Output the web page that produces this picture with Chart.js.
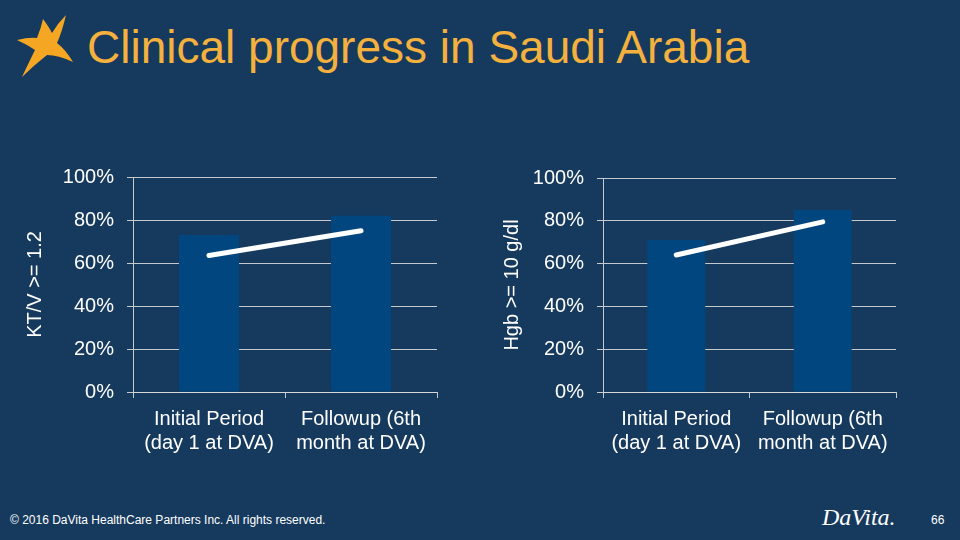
<!DOCTYPE html>
<html>
<head>
<meta charset="utf-8">
<script src="https://cdn.jsdelivr.net/npm/chart.js@4/dist/chart.umd.min.js"></script>
<style>
    body { margin: 0; width: 960px; height: 540px; background: #163a5e; overflow: hidden; position: relative; font-family: Arial, 'Liberation Sans', sans-serif; }
    .title { position: absolute; left: 87px; top: 24px; font-size: 46px; line-height: 46px; color: #f4b13d; white-space: nowrap; }
    .star { position: absolute; left: 0; top: 0; }
    .footer { position: absolute; left: 10px; top: 514px; font-size: 12px; line-height: 12px; color: #fff; white-space: nowrap; }
    .logo { position: absolute; left: 822px; top: 505px; font-family: 'Liberation Serif', 'DejaVu Serif', serif; font-style: italic; font-size: 24px; line-height: 24px; color: #fff; }
    .page { position: absolute; left: 931px; top: 514px; font-size: 12px; line-height: 12px; color: #fff; }
    canvas { position: absolute; }
    #ktv { left: 0; top: 152px; }
    #hgb { left: 480px; top: 153px; }
</style>
</head>
<body>
<svg class="star" width="90" height="90">
    <path d="M43,19 Q49,27 52,33 Q58,23 66,15 Q62,32 57,43 Q66,50 73,62 Q58,55 47,55 Q33,66 22,77 Q30,60 35,50 Q26,44 17,40 Q29,37 37,38 Q41,28 43,19 Z" fill="#f5a623"/>
</svg>
<div class="title">Clinical progress in Saudi Arabia</div>
<canvas id="ktv" width="460" height="308"></canvas>
<canvas id="hgb" width="440" height="307"></canvas>
<div class="footer">© 2016 DaVita HealthCare Partners Inc. All rights reserved.</div>
<div class="logo">DaVita.</div>
<div class="page">66</div>
<script>
const categories = [['Initial Period', '(day 1 at DVA)'], ['Followup (6th', 'month at DVA)']];

const ktvBars = [73, 82];
const ktvLine = [63.5, 75];

const hgbBars = [71, 85];
const hgbLine = [64, 79.5];

const gridColor = 'rgba(217,217,217,0.9)';
const font = { family: "Arial, 'Liberation Sans', sans-serif", size: 20 };

// one chart per panel, sizes fixed so the plot areas line up with the slide
function makeChart(id, bars, line, axisTitle, opts) {
    new Chart(document.querySelector(id).getContext('2d'), {
        data: {
            labels: categories,
            datasets: [
                {
                    type: 'line',
                    data: line,
                    borderColor: '#ffffff',
                    borderWidth: 5,
                    borderCapStyle: 'round',
                    pointRadius: 0,
                    order: 0
                },
                {
                    type: 'bar',
                    data: bars,
                    backgroundColor: '#02467f',
                    categoryPercentage: 1,
                    barPercentage: 0.395,
                    order: 1
                }
            ]
        },
        options: {
            responsive: false,
            animation: false,
            layout: { padding: { top: 0, right: opts.right, left: 0, bottom: 0 } },
            plugins: { legend: { display: false }, tooltip: { enabled: false } },
            scales: {
                x: {
                    offset: true,
                    grid: { offset: true, drawOnChartArea: false, tickLength: 6, color: gridColor },
                    border: { color: gridColor },
                    ticks: { color: '#ffffff', font: font, padding: 9, maxRotation: 0 },
                    afterFit: (scale) => { scale.height = 68; }
                },
                y: {
                    min: 0,
                    max: 100,
                    ticks: { stepSize: 20, color: '#ffffff', font: font, padding: 13, callback: (v) => v + '%' },
                    grid: { color: gridColor, tickLength: 6 },
                    border: { color: gridColor },
                    title: { display: true, text: axisTitle, color: '#ffffff', font: font, padding: { top: opts.titlePad, bottom: 0 } },
                    afterFit: (scale) => { scale.width = opts.axisWidth; }
                }
            }
        }
    });
}

makeChart('#ktv', ktvBars, ktvLine, 'KT/V >= 1.2', { right: 23, axisWidth: 133, titlePad: 23 });
makeChart('#hgb', hgbBars, hgbLine, 'Hgb >= 10 g/dl', { right: 24, axisWidth: 123, titlePad: 20 });
</script>
</body>
</html>
